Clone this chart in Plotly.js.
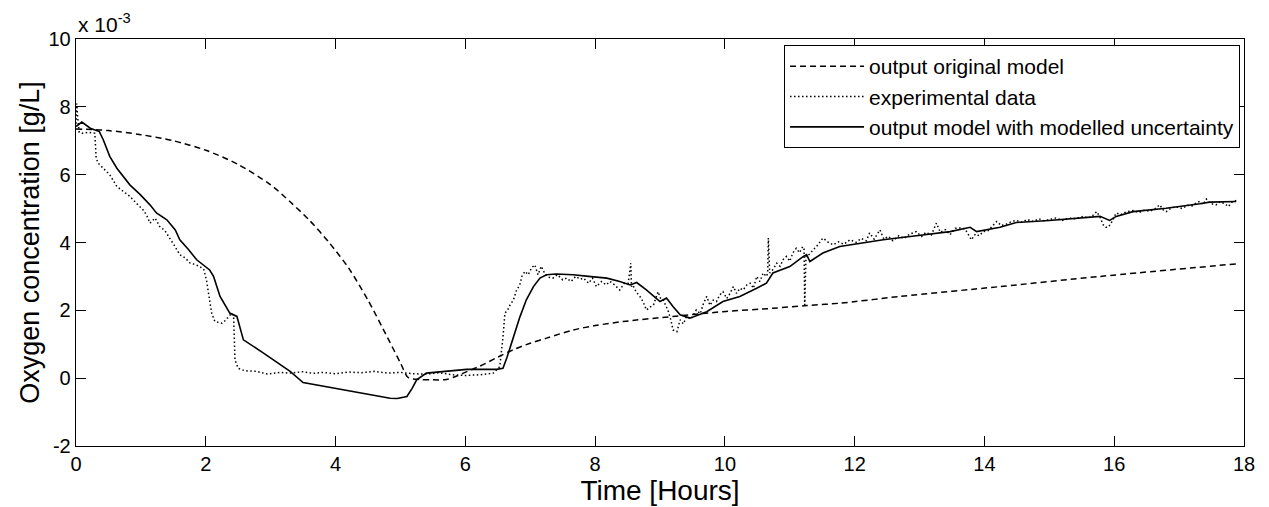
<!DOCTYPE html>
<html>
<head>
<meta charset="utf-8">
<script src="https://cdn.plot.ly/plotly-3.0.1.min.js"></script>
<style>html,body{margin:0;padding:0;background:#fff;}</style>
</head>
<body>
<div id="chart" style="width:1269px;height:507px;"></div>
<script>
// Values in units of 1e-3 g/L
const modelTime = [0, 0.5, 1.0, 1.5, 2.0, 2.5, 3.0, 3.3, 3.6, 3.9, 4.2, 4.5, 4.8, 5.0, 5.12, 5.3, 5.5, 5.71, 5.85, 5.97, 6.22, 6.5, 6.74, 7.0, 7.25, 7.66, 8.0, 8.43, 9.2, 9.97, 10.74, 11.26, 11.77, 12.7, 14.24, 15.78, 17.88];
const modelOxygen = [7.35, 7.3, 7.18, 7.0, 6.72, 6.3, 5.7, 5.2, 4.65, 4.0, 3.25, 2.3, 1.2, 0.45, 0.02, -0.04, -0.05, -0.04, 0.05, 0.15, 0.35, 0.62, 0.84, 1.03, 1.18, 1.42, 1.55, 1.67, 1.82, 1.96, 2.06, 2.14, 2.21, 2.41, 2.70, 3.0, 3.37];

const expTime = [0, 0.01, 0.03, 0.05, 0.1, 0.2, 0.29, 0.31, 0.34, 0.42, 0.52, 0.63, 0.73, 0.83, 0.93, 1.04, 1.09, 1.14, 1.22, 1.29, 1.37, 1.45, 1.52, 1.60, 1.68, 1.76, 1.84, 1.91, 1.97, 2.01, 2.05, 2.09, 2.14, 2.20, 2.25, 2.30, 2.35, 2.40, 2.43, 2.45, 2.50,
  2.6, 2.78, 2.95, 3.14, 3.3, 3.5, 3.65, 3.8, 4.0, 4.2, 4.4, 4.6, 4.8, 5.0, 5.2, 5.4, 5.6, 5.8, 6.0, 6.22, 6.35, 6.43,
  6.53, 6.58, 6.61, 6.65, 6.69, 6.74, 6.79, 6.84, 6.87, 6.92, 6.97, 7.02, 7.07, 7.12, 7.17, 7.22, 7.28, 7.35, 7.42, 7.5, 7.56, 7.63, 7.7, 7.77, 7.82, 7.9, 7.96, 8.02, 8.1, 8.17, 8.23, 8.3, 8.38, 8.45, 8.51, 8.55, 8.56, 8.58, 8.63, 8.69, 8.74, 8.79, 8.85, 8.9, 8.97, 9.01, 9.05, 9.1, 9.13, 9.17, 9.2, 9.26, 9.31, 9.36, 9.41, 9.48,
  9.56, 9.62, 9.67, 9.72, 9.77, 9.82, 9.87, 9.92, 9.97, 10.03, 10.08, 10.13, 10.18, 10.23, 10.28, 10.34, 10.39, 10.44, 10.49, 10.54, 10.59, 10.64, 10.66, 10.67, 10.69, 10.74, 10.8, 10.85, 10.9, 10.95, 11.0, 11.05, 11.1, 11.15, 11.2, 11.22, 11.23, 11.25, 11.3, 11.36, 11.42, 11.51,
  11.6, 11.67, 11.75, 11.83, 11.93, 12.02, 12.1, 12.18, 12.23, 12.3, 12.39, 12.45, 12.52, 12.59, 12.68, 12.76, 12.85, 12.95, 13.03, 13.1, 13.18, 13.26, 13.32, 13.4, 13.47, 13.55, 13.62, 13.7, 13.76, 13.8, 13.86, 13.92, 13.98, 14.06, 14.12, 14.19, 14.26, 14.35, 14.42, 14.49, 14.58, 14.66, 14.75, 14.84, 14.92, 15.0, 15.1, 15.2, 15.3, 15.4, 15.52, 15.6, 15.67, 15.73, 15.78, 15.83, 15.87, 15.91, 15.96, 16.03, 16.1, 16.18, 16.29, 16.38, 16.46, 16.55, 16.63, 16.7, 16.76, 16.8, 16.88, 16.96, 17.05, 17.13, 17.2, 17.27, 17.32, 17.37, 17.42, 17.48, 17.57, 17.63, 17.7, 17.76, 17.82, 17.88];
const expOxygen = [7.5, 8.1, 7.6, 7.25, 7.22, 7.25, 7.22, 6.5, 6.34, 6.2, 6.0, 5.65, 5.5, 5.36, 5.16, 4.95, 4.8, 4.57, 4.72, 4.47, 4.35, 4.13, 3.9, 3.64, 3.55, 3.39, 3.35, 3.29, 3.2, 2.9, 2.4, 1.92, 1.67, 1.65, 1.62, 1.7, 1.82, 1.92, 1.77, 0.54, 0.29,
  0.22, 0.2, 0.12, 0.17, 0.15, 0.19, 0.14, 0.17, 0.13, 0.18, 0.16, 0.2, 0.15, 0.17, 0.13, 0.12, 0.16, 0.1, 0.08, 0.1, 0.12, 0.15,
  0.34, 1.2, 1.92, 2.0, 2.16, 2.3, 2.6, 2.75, 3.0, 3.15, 3.05, 3.25, 3.34, 3.05, 3.3, 3.1, 2.98, 2.95, 3.05, 2.9, 2.95, 2.85, 3.0, 2.92, 2.95, 2.8, 2.95, 2.7, 2.85, 2.75, 2.85, 2.75, 2.6, 2.8, 2.8, 3.39, 2.7, 2.75, 2.55, 2.41, 2.25, 2.01, 2.1, 2.16, 2.55, 2.35, 2.31, 2.1, 1.96, 1.7, 1.42, 1.37, 1.72, 1.6, 1.82, 1.75,
  2.01, 1.9, 2.2, 2.41, 2.15, 2.3, 2.26, 2.45, 2.55, 2.35, 2.5, 2.7, 2.5, 2.65, 2.6, 2.75, 2.8, 2.65, 3.0, 2.85, 3.1, 3.0, 3.1, 4.13, 3.1, 3.2, 3.39, 3.3, 3.5, 3.59, 3.45, 3.7, 3.83, 3.7, 3.88, 3.8, 2.16, 3.6, 3.65, 3.78, 3.9, 4.13,
  4.0, 3.93, 4.02, 3.95, 4.08, 4.0, 4.12, 4.05, 4.28, 4.1, 4.37, 4.1, 4.18, 4.05, 4.2, 4.12, 4.25, 4.32, 4.18, 4.3, 4.22, 4.57, 4.3, 4.38, 4.23, 4.42, 4.43, 4.4, 4.2, 4.08, 4.25, 4.2, 4.32, 4.35, 4.48, 4.62, 4.5, 4.55, 4.62, 4.65, 4.6, 4.68, 4.62, 4.7, 4.64, 4.67, 4.72, 4.65, 4.72, 4.7, 4.77, 4.72, 4.8, 4.91, 4.75, 4.52, 4.45, 4.45, 4.6, 4.87, 4.82, 4.9, 4.94, 4.88, 4.95, 4.92, 5.0, 5.11, 4.95, 4.91, 5.02, 5.05, 5.0, 5.1, 5.08, 5.18, 5.21, 5.12, 5.28, 5.15, 5.11, 5.2, 5.15, 5.06, 5.2, 5.24];

const uncTime = [0, 0.09, 0.22, 0.36, 0.42, 0.52, 0.63, 0.83, 0.99, 1.14, 1.24, 1.40, 1.53, 1.60, 1.73, 1.86, 2.06, 2.12, 2.22, 2.37, 2.48, 2.58, 2.89, 3.30, 3.50, 4.17, 4.84, 4.95, 5.10, 5.18, 5.25, 5.40, 5.71, 6.02, 6.48, 6.58, 6.64, 6.74, 6.84, 6.94, 7.05, 7.15, 7.25, 7.4, 7.66, 7.9, 8.18, 8.38, 8.54, 8.64, 8.79, 9.0, 9.1, 9.2, 9.31, 9.46, 9.72, 9.97, 10.23, 10.49, 10.64, 10.74, 11.0, 11.21, 11.26, 11.31, 11.51, 11.77, 11.93, 12.44, 12.95, 13.47, 13.78, 13.88, 14.24, 14.49, 15.0, 15.52, 15.78, 15.93, 16.03, 16.29, 16.80, 17.32, 17.47, 17.88];
const uncOxygen = [7.42, 7.55, 7.37, 7.27, 7.03, 6.54, 6.19, 5.70, 5.41, 5.11, 4.87, 4.67, 4.37, 4.08, 3.8, 3.49, 3.19, 3.0, 2.41, 1.92, 1.82, 1.13, 0.74, 0.2, -0.13, -0.35, -0.59, -0.6, -0.54, -0.3, -0.05, 0.15, 0.2, 0.26, 0.26, 0.29, 0.6, 1.23, 1.8, 2.31, 2.7, 2.95, 3.05, 3.07, 3.05, 3.0, 2.95, 2.85, 2.75, 2.82, 2.6, 2.26, 2.36, 2.11, 1.87, 1.77, 1.96, 2.26, 2.41, 2.65, 2.8, 3.1, 3.29, 3.59, 3.64, 3.44, 3.69, 3.88, 3.93, 4.08, 4.2, 4.32, 4.45, 4.32, 4.45, 4.59, 4.65, 4.72, 4.77, 4.65, 4.77, 4.91, 5.01, 5.14, 5.19, 5.21];

const seriesNames = ['output original model', 'experimental data', 'output model with modelled uncertainty'];
const xTicks = [0, 2, 4, 6, 8, 10, 12, 14, 16, 18];
const yTicks = [-2, 0, 2, 4, 6, 8, 10];

const FONT = 'Liberation Sans, Arial, Helvetica, sans-serif';

const traces = [
  {x: modelTime, y: modelOxygen, name: seriesNames[0], mode: 'lines',
   line: {color: '#000', width: 1.5, dash: '6px,4px', shape: 'spline', smoothing: 0.8}},
  {x: expTime, y: expOxygen, name: seriesNames[1], mode: 'lines',
   line: {color: '#000', width: 1.5, dash: '1.5px,2.5px'}},
  {x: uncTime, y: uncOxygen, name: seriesNames[2], mode: 'lines',
   line: {color: '#000', width: 1.6}}
];

const axisCommon = {
  showline: true, linecolor: '#000', linewidth: 1.3, mirror: 'allticks',
  ticks: 'inside', ticklen: 10, tickwidth: 1, tickcolor: '#000',
  showgrid: false, zeroline: false,
  tickfont: {family: FONT, size: 20, color: '#000'}
};

const layout = {
  width: 1269, height: 507,
  margin: {l: 76, r: 25, t: 39, b: 61},
  paper_bgcolor: '#fff', plot_bgcolor: '#fff',
  font: {family: FONT, color: '#000'},
  xaxis: Object.assign({}, axisCommon, {
    range: [0, 18], tickmode: 'array', tickvals: xTicks, ticktext: xTicks.map(String),
    title: {text: 'Time [Hours]', font: {family: FONT, size: 28, color: '#000'}, standoff: 2}
  }),
  yaxis: Object.assign({}, axisCommon, {
    range: [-2, 10], tickmode: 'array', tickvals: yTicks, ticktext: yTicks.map(String),
    title: {text: 'Oxygen concentration [g/L]', font: {family: FONT, size: 27, color: '#000'}, standoff: 1}
  }),
  showlegend: true,
  legend: {
    x: 0.9966, xanchor: 'right', y: 0.985, yanchor: 'top',
    bgcolor: '#fff', bordercolor: '#000', borderwidth: 1,
    font: {family: FONT, size: 21, color: '#000'},
    itemwidth: 74, tracegroupgap: 0
  },
  annotations: [{
    xref: 'paper', yref: 'paper', x: 0, y: 1, xanchor: 'left', yanchor: 'bottom',
    text: 'x 10<sup>-3</sup>', showarrow: false, yshift: 1,
    font: {family: FONT, size: 21, color: '#000'}
  }]
};

Plotly.newPlot('chart', traces, layout, {displayModeBar: false, staticPlot: true});
</script>
</body>
</html>
